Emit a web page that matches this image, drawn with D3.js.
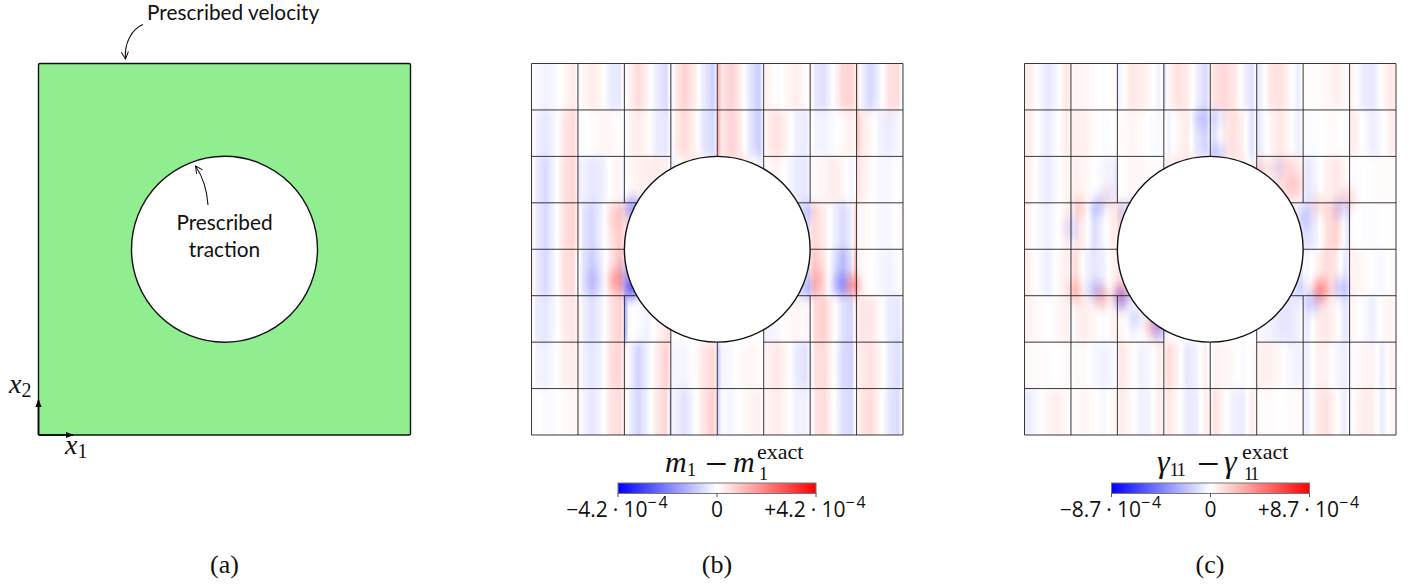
<!DOCTYPE html>
<html>
<head>
<meta charset="utf-8">
<script src="https://cdn.jsdelivr.net/npm/d3@7"></script>
<style>
  html, body { margin: 0; padding: 0; background: #fff; }
  text { fill: #111; }
  .gill { font-family: Lato, sans-serif; font-size: 20.8px; }
  .serif { font-family: "Liberation Serif", serif; }
  .sans { font-family: "Open Sans", sans-serif; font-size: 21px; }
</style>
</head>
<body>
<svg id="fig" width="1417" height="586"></svg>
<script>
var panelLabels = ["(a)", "(b)", "(c)"];
var annotations = ["Prescribed velocity", "Prescribed", "traction"];
var barTicksB = ["\u22124.2", "0", "+4.2"];
var barTicksC = ["\u22128.7", "0", "+8.7"];
var barTickValues = [-1, 0, 1];
var meshTicks = [0, 1, 2, 3, 4, 5, 6, 7, 8];

// error across each mesh cell, read left to right, fraction of the colorbar range
var stripesB = [
  [[0,-.02,-.05,-.03,.03,.08,.02],[-.05,.03,.08,.03,-.08,-.1,.1],[-.03,.05,.14,.04,-.08,-.15,.05],[-.1,.08,.18,.08,-.08,-.18,-.03],[.35,.1,.18,.06,-.1,-.2,.02],[.03,.05,-.02,.03,.07,.02,-.03],[.15,-.1,-.12,0,.15,.17,.03],[.2,-.05,-.16,-.04,.12,.14,-.12]],
  [[.1,-.05,-.1,-.03,.1,.15,.03],[-.02,-.01,.01,.03,.03,.01,-.01],[-.03,.04,.08,.02,-.08,-.1,0],[-.1,.08,.14,.06,-.1,-.15,-.03],[.4,.08,.18,.08,-.1,-.2,-.03],[-.03,.08,.12,.04,-.06,-.08,0],[.03,-.04,-.05,-.02,.03,.06,.02],[.25,.1,.03,-.05,-.08,-.03,0]],
  [[.1,-.08,-.15,-.03,.12,.16,.03],[-.08,-.05,-.1,-.08,.01,.05,-.1],[-.03,.03,.05,.07,.08,.05,0],[-.08,-.03,.06,.12,.03,-.1,-.12],[.3,.05,.12,.14,.04,-.05,-.05],[-.03,.03,.05,-.02,-.08,-.1,-.02],[.02,.02,.04,.08,.04,-.04,.02],[.12,.08,.02,-.03,-.03,0,-.02]],
  [[.12,-.08,-.15,-.03,.12,.17,.03],[.15,-.1,-.16,-.05,.1,.2,.1],[.15,.08,-.15,-.15,0,0,0],[0,0,0,0,0,0,0],[0,0,0,0,0,0,0],[0,0,0,0,0,-.05,-.15],[.1,.15,.08,-.05,-.15,-.05,.3],[.03,.03,.01,-.03,-.03,.02,.03]],
  [[.12,-.08,-.15,-.03,.12,.15,-.1],[.05,-.1,-.2,-.08,.1,.25,.1],[.15,.08,-.15,-.15,0,0,0],[0,0,0,0,0,0,0],[0,0,0,0,0,0,0],[0,0,0,0,0,-.05,-.2],[.12,.22,.1,-.1,-.28,-.1,.5],[.03,.03,0,-.03,-.05,-.01,.02]],
  [[.05,-.07,-.1,-.03,.08,.1,.03],[.12,-.05,-.12,-.05,.1,.18,.05],[-.4,.02,-.02,-.05,.03,.1,.15],[0,0,0,0,0,0,0],[0,0,0,0,0,0,0],[-.05,-.05,-.03,.02,.04,.02,.05],[-.05,.15,.18,.03,-.12,-.16,.25],[.03,.1,.1,.02,-.08,-.1,-.01]],
  [[.05,-.04,-.06,-.01,.06,.08,.02],[.1,-.05,-.1,-.05,.12,.17,.02],[.08,-.03,-.18,-.05,.08,.18,.05],[-.03,-.04,-.04,0,.1,.15,.05],[-.25,-.04,-.02,.02,.04,.02,-.02],[.03,.06,.1,.03,-.08,-.12,0],[-.15,.12,.14,.01,-.15,-.17,.1],[.05,.08,.12,.05,-.08,-.13,-.02]],
  [[.01,.01,-.02,-.01,.02,.03,.01],[.1,-.03,-.1,-.03,.1,.14,.02],[.1,-.06,-.16,-.05,.1,.17,-.3],[-.03,-.06,-.12,-.02,.1,.2,.05],[-.2,-.02,-.04,.01,.04,.06,0],[.03,.05,.08,.02,-.05,-.06,0],[-.1,.1,.14,.01,-.12,-.15,.1],[.03,.1,.14,.03,-.1,-.14,.08]]
];
var stripesC = [
  [[.06,.08,-.02,-.1,-.03,.1,.05],[.01,.05,.03,.01,-.01,.02,.02],[-.08,-.02,.1,.08,.03,-.06,.05],[-.15,.03,.12,.08,-.05,-.15,-.02],[.05,.12,.15,.1,-.03,-.12,.03],[-.1,-.05,.1,.12,.04,-.08,.02],[.01,.01,.01,.03,.06,.03,.01],[.08,.02,-.08,-.1,.02,.1,.05]],
  [[.07,.08,-.01,-.08,-.01,.08,.03],[.05,.06,.06,.02,-.02,0,.03],[.01,.02,.03,.02,-.01,-.03,0],[.05,-.05,.04,.08,-.1,-.18,-.02],[-.1,-.1,.08,.12,.06,-.12,.03],[-.1,-.06,.04,.1,.02,-.07,.01],[-.01,-.01,-.01,.01,.02,-.01,0],[.06,.07,-.01,-.07,-.01,.07,.03]],
  [[.07,.06,-.03,-.08,-.02,.05,.02],[.03,.06,.04,0,-.04,-.06,-.1],[-.02,.01,.03,.03,.02,.01,-.01],[.05,.06,.1,.1,.1,.03,-.1],[-.2,-.02,.05,.1,.08,-.04,.03],[-.05,-.04,.06,.12,.14,.08,.03],[-.04,-.1,-.03,.06,.1,.04,-.02],[-.01,-.01,0,.01,.02,.01,0]],
  [[.07,.04,-.03,-.06,-.01,.06,.02],[-.15,.1,.05,-.14,-.03,.08,.05],[.15,.1,-.2,-.1,0,0,0],[0,0,0,0,0,0,0],[0,0,0,0,0,0,0],[0,0,0,0,0,-.05,-.1],[-.1,-.12,-.05,.12,.18,-.03,-.15],[.02,.01,-.01,-.01,0,.01,.01]],
  [[.08,.05,-.02,-.07,.02,.07,.02],[.08,.14,-.04,-.1,-.06,.05,.08],[.12,.05,-.1,-.1,0,0,0],[0,0,0,0,0,0,0],[0,0,0,0,0,0,0],[0,0,0,0,0,-.05,-.1],[-.02,-.03,.05,.14,.1,-.1,-.04],[.03,.05,.03,-.01,-.03,.02,.02]],
  [[.05,.05,.02,0,.03,.06,.02],[-.08,.05,.07,.03,-.02,.05,.03],[.05,.03,-.03,0,.05,.06,.01],[0,0,0,0,0,0,0],[0,0,0,0,0,0,0],[-.02,-.03,-.05,-.1,-.1,-.06,.02],[-.05,-.08,.07,.1,.03,-.1,-.05],[.05,.03,-.02,-.07,.02,.05,0]],
  [[.01,.02,.02,.01,0,.02,.02],[-.01,.02,.02,-.03,-.05,-.03,.01],[.06,.1,.02,-.05,-.03,.07,.02],[.05,.15,.05,-.1,-.05,.08,-.1],[-.01,.05,.04,.02,-.02,.02,.03],[.04,.06,.06,.02,-.03,-.06,-.01],[-.06,-.05,.05,.05,-.03,-.07,.01],[-.07,.02,.04,.05,-.07,.06,.01]],
  [[-.08,-.07,-.02,.04,.06,.02,-.01],[-.02,.02,.03,.01,-.03,.03,.05],[.05,.08,.02,-.06,-.04,.08,.03],[.03,.1,.02,-.08,-.08,.08,.01],[.03,.12,.02,-.06,-.08,.08,.02],[.01,.01,.01,0,.01,.02,.02],[-.05,-.06,.08,.12,.02,-.08,.03],[-.07,.02,.08,.06,-.08,.04,.01]]
];

// local peaks near the hole: mesh column, mesh row, value
var peaksB = [
  [1.8,4.67,.25],[1.33,4.67,-.1],[2.15,4.82,-.6],[2.06,4.5,-.2],[6.65,4.73,-.22],[6.17,4.67,.15],
  [6.92,4.77,.35],[5.9,4.84,-.2],[1.8,3.33,.07],[2.17,3.12,-.35],[5.9,3.2,-.15]
];
var peaksC = [
  [1.66,5.03,.25],[1.53,4.88,-.14],[1.1,4.92,.18],[2.09,4.95,.25],[2.09,5.05,-.3],[2.88,5.68,-.3],
  [2.74,5.63,.15],[2.39,5.48,-.12],[6.37,4.88,.4],[6.82,4.84,-.2],[6.21,5.14,-.18],[5.9,4.84,-.12],
  [1.6,3.05,-.15],[1.16,3.1,.12],[1.8,2.88,.08],[1,3.55,-.12],[2.17,3.2,-.15],[5.1,2.26,.15],
  [5.83,2.58,.12],[5.46,2.26,-.08],[4.17,1.94,-.16],[3.79,1.18,-.1],[4.17,1.18,-.08],[6.97,2.9,.14],
  [6.8,3.12,-.14],[6.32,3.05,.12],[6.02,3.33,-.12]
];

var svg = d3.select("#fig");
var defs = svg.append("defs");
var color = d3.scaleLinear().domain([-1, 0, 1]).range(["#0000ff", "#ffffff", "#ff0000"]);

var PLOT_TOP = 63.5, PLOT_SIZE = 371.5, HOLE_R = 2;
var yScale = d3.scaleLinear().domain([0, 8]).range([PLOT_TOP, PLOT_TOP + PLOT_SIZE]);

defs.append("marker").attr("id", "head").attr("viewBox", "0 0 10 10").attr("refX", 9).attr("refY", 5)
  .attr("markerWidth", 9).attr("markerHeight", 9).attr("markerUnits", "userSpaceOnUse").attr("orient", "auto")
  .append("path").attr("d", "M1,1 L9,5 L1,9").attr("fill", "none").attr("stroke", "#111").attr("stroke-width", 1.1);
defs.append("marker").attr("id", "solid").attr("viewBox", "0 0 10 10").attr("refX", 9).attr("refY", 5)
  .attr("markerWidth", 8).attr("markerHeight", 8).attr("markerUnits", "userSpaceOnUse").attr("orient", "auto")
  .append("path").attr("d", "M0,1 L10,5 L0,9 Z").attr("fill", "#000");

// soft across the rows, the jumps at the vertical element edges stay
var soft = defs.append("filter").attr("id", "soft").attr("x", "-5%").attr("y", "-5%").attr("width", "110%").attr("height", "110%");
soft.append("feGaussianBlur").attr("stdDeviation", "0.7 5");

// ------- panel (a)
var xA = d3.scaleLinear().domain([0, 8]).range([38.5, 38.5 + 372]);
var gA = svg.append("g");
gA.append("rect").attr("x", xA(0)).attr("y", yScale(0)).attr("width", xA(8) - xA(0)).attr("height", yScale(8) - yScale(0))
  .attr("rx", 1.5).attr("fill", "#90ee90").attr("stroke", "#111").attr("stroke-width", 1.4);
gA.append("circle").attr("cx", xA(4)).attr("cy", yScale(4)).attr("r", xA(HOLE_R) - xA(0))
  .attr("fill", "#fff").attr("stroke", "#111").attr("stroke-width", 1.4);
gA.append("path").attr("d", "M143,24.5 C132,29 124,43 125.5,59").attr("fill", "none").attr("stroke", "#111").attr("stroke-width", 1.1).attr("marker-end", "url(#head)");
gA.append("path").attr("d", "M208,205 C207,190 203,177 195.5,166").attr("fill", "none").attr("stroke", "#111").attr("stroke-width", 1.1).attr("marker-end", "url(#head)");
gA.append("line").attr("x1", xA(0)).attr("y1", yScale(8)).attr("x2", xA(0)).attr("y2", 400).attr("stroke", "#000").attr("stroke-width", 1.6).attr("marker-end", "url(#solid)");
gA.append("line").attr("x1", xA(0)).attr("y1", yScale(8)).attr("x2", 73).attr("y2", yScale(8)).attr("stroke", "#000").attr("stroke-width", 1.6).attr("marker-end", "url(#solid)");

gA.append("text").attr("class", "gill").attr("x", 147).attr("y", 20).text(annotations[0]);
gA.append("text").attr("class", "gill").attr("x", 224.5).attr("y", 230).attr("text-anchor", "middle").text(annotations[1]);
gA.append("text").attr("class", "gill").attr("x", 224.5).attr("y", 257).attr("text-anchor", "middle").text(annotations[2]);

function mathVar(x, y, letter, sub) {
  var t = svg.append("text").attr("class", "serif").attr("x", x).attr("y", y).attr("font-size", 28);
  t.append("tspan").attr("font-style", "italic").text(letter);
  t.append("tspan").attr("font-size", 20).attr("dy", 4).text(sub);
}
mathVar(9, 393, "x", "2");
mathVar(65, 454, "x", "1");

// ------- panels (b) and (c)
function drawField(id, x0, stripes, peaks) {
  var x = d3.scaleLinear().domain([0, 8]).range([x0, x0 + PLOT_SIZE]);
  var g = svg.append("g").attr("id", id);
  var clipId = id + "-clip";
  defs.append("clipPath").attr("id", clipId).append("rect")
    .attr("x", x(0)).attr("y", yScale(0)).attr("width", x(8) - x(0)).attr("height", yScale(8) - yScale(0));

  var clipped = g.append("g").attr("clip-path", "url(#" + clipId + ")");
  var cells = clipped.append("g").attr("filter", "url(#soft)");

  // stop places inside a cell: the outer two sit tight on the element edge
  var pos = d3.scaleLinear().domain([0, 1, 5, 6]).range([0, 10, 90, 100]);
  stripes.forEach(function(row, r) {
    row.forEach(function(cell, c) {
      var gid = id + "-" + r + "-" + c;
      var grad = defs.append("linearGradient").attr("id", gid);
      cell.forEach(function(v, i) {
        grad.append("stop").attr("offset", pos(i) + "%").attr("stop-color", color(v));
        var next = cell[i + 1];
        // keep the white band between a red and a blue stripe
        if (next !== undefined && v * next < 0) {
          grad.append("stop").attr("offset", pos(i + v / (v - next)) + "%").attr("stop-color", "#fff");
        }
      });
      // outer rows run past the frame so the blur does not fade at the border
      var top = r === 0 ? yScale(r) - 20 : yScale(r);
      var bottom = r === 7 ? yScale(r + 1) + 20 : yScale(r + 1) + .3;
      cells.append("rect").attr("x", x(c)).attr("y", top)
        .attr("width", x(c + 1) - x(c) + .3).attr("height", bottom - top)
        .attr("fill", "url(#" + gid + ")");
    });
  });

  // peaks
  peaks.forEach(function(p, i) {
    var gid = id + "-peak-" + i;
    var c = p[2] > 0 ? "#ff0000" : "#0000ff";
    var a = Math.abs(p[2]);
    var grad = defs.append("radialGradient").attr("id", gid);
    grad.append("stop").attr("offset", "0%").attr("stop-color", c).attr("stop-opacity", a);
    grad.append("stop").attr("offset", "40%").attr("stop-color", c).attr("stop-opacity", a * .55);
    grad.append("stop").attr("offset", "70%").attr("stop-color", c).attr("stop-opacity", a * .15);
    grad.append("stop").attr("offset", "100%").attr("stop-color", c).attr("stop-opacity", 0);
    clipped.append("ellipse").attr("cx", x(p[0])).attr("cy", yScale(p[1])).attr("rx", 14).attr("ry", 22)
      .attr("fill", "url(#" + gid + ")");
  });

  // mesh, the hole is painted over it
  var mesh = g.append("g").attr("stroke", "#222").attr("stroke-width", 1).attr("stroke-opacity", .9);
  meshTicks.forEach(function(k) {
    var broken = k === 2 || k === 6;
    var spans = broken ? [[0, 3], [5, 8]] : [[0, 8]];
    spans.forEach(function(s) {
      mesh.append("line").attr("x1", x(k)).attr("x2", x(k)).attr("y1", yScale(s[0])).attr("y2", yScale(s[1]));
      mesh.append("line").attr("y1", yScale(k)).attr("y2", yScale(k)).attr("x1", x(s[0])).attr("x2", x(s[1]));
    });
  });
  g.append("circle").attr("cx", x(4)).attr("cy", yScale(4)).attr("r", x(HOLE_R) - x(0))
    .attr("fill", "#fff").attr("stroke", "#111").attr("stroke-width", 1.4);
}
drawField("b", 531.5, stripesB, peaksB);
drawField("c", 1024.5, stripesC, peaksC);

// ------- colorbars
function drawBar(id, cx, ticks) {
  var x = d3.scaleLinear().domain([-1, 1]).range([cx - 99, cx + 99]);
  var grad = defs.append("linearGradient").attr("id", id + "-bar");
  color.domain().forEach(function(v) {
    grad.append("stop").attr("offset", ((v + 1) * 50) + "%").attr("stop-color", color(v));
  });
  svg.append("rect").attr("x", x(-1)).attr("y", 483).attr("width", x(1) - x(-1)).attr("height", 10.5)
    .attr("fill", "url(#" + id + "-bar)").attr("stroke", "#777").attr("stroke-width", 1);
  barTickValues.forEach(function(v, i) {
    svg.append("line").attr("x1", x(v)).attr("x2", x(v)).attr("y1", 493).attr("y2", 497).attr("stroke", "#555").attr("stroke-width", 1);
    var label = svg.append("text").attr("class", "sans").attr("x", x(v)).attr("y", 517).attr("text-anchor", "middle");
    label.append("tspan").text(ticks[i]);
    if (v !== 0) {
      label.append("tspan").attr("dx", 5).text("\u00b7");
      label.append("tspan").attr("dx", 5).text("10");
      label.append("tspan").attr("font-size", 16).attr("letter-spacing", 2).attr("dy", -9).text("\u22124");
    }
  });
}
drawBar("b", 717, barTicksB);
drawBar("c", 1210.5, barTicksC);

function barTitle(letter, sub, size, subSpacing, xs) {
  var a = svg.append("text").attr("class", "serif").attr("x", xs[0]).attr("y", 472).attr("font-size", size);
  a.append("tspan").attr("font-style", "italic").text(letter);
  a.append("tspan").attr("font-size", 19).attr("letter-spacing", subSpacing).attr("dy", 4).text(sub);
  svg.append("text").attr("class", "serif").attr("x", xs[1]).attr("y", 477).attr("font-size", 40).text("\u2212");
  svg.append("text").attr("class", "serif").attr("x", xs[2]).attr("y", 472).attr("font-size", size).attr("font-style", "italic").text(letter);
  svg.append("text").attr("class", "serif").attr("x", xs[3]).attr("y", 459).attr("font-size", 22).text("exact");
  svg.append("text").attr("class", "serif").attr("x", xs[3] + 2).attr("y", 480).attr("font-size", 18).attr("letter-spacing", subSpacing).text(sub);
}
barTitle("m", "1", 30, 0, [665, 705, 733, 757]);
barTitle("\u03b3", "11", 32, -2, [1157, 1197, 1224, 1242]);

// ------- panel letters
[224.5, 717, 1210].forEach(function(cx, i) {
  svg.append("text").attr("class", "serif").attr("x", cx).attr("y", 573).attr("text-anchor", "middle")
    .attr("font-size", 26).text(panelLabels[i]);
});
</script>
</body>
</html>
